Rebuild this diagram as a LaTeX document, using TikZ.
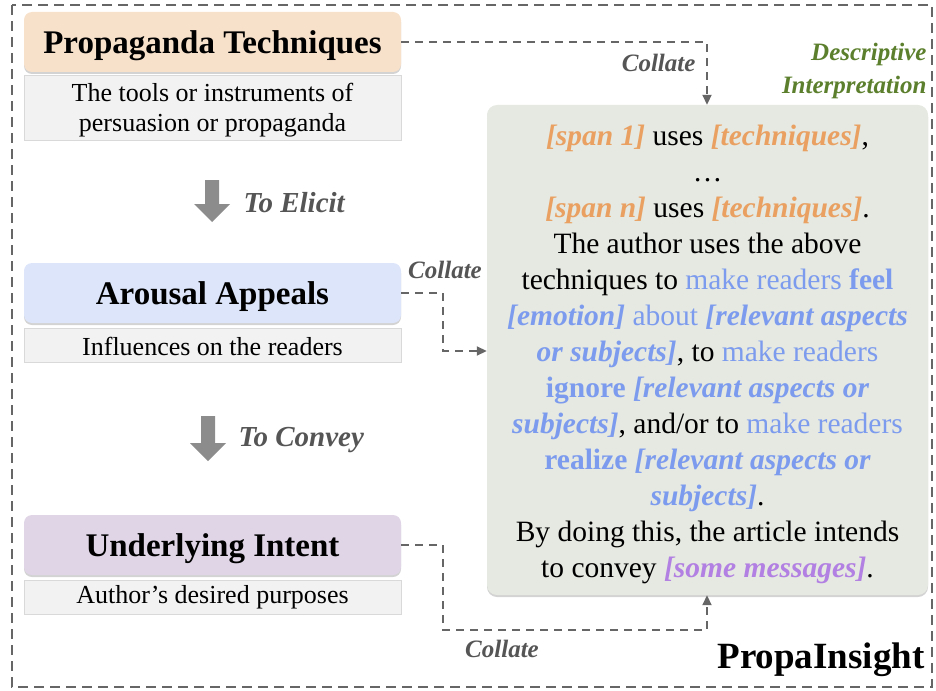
\documentclass[tikz,border=0pt]{standalone}
\usepackage{fontspec}
\setmainfont{Liberation Serif}
\usetikzlibrary{shadows,arrows.meta}
\definecolor{peach}{HTML}{F8E1CB}
\definecolor{lblue}{HTML}{DCE5F9}
\definecolor{lpurple}{HTML}{E0D5E7}
\definecolor{descgray}{HTML}{F2F2F2}
\definecolor{bigfill}{HTML}{E5E9E1}
\definecolor{dashgray}{HTML}{666666}
\definecolor{arrgray}{HTML}{8C8C8C}
\definecolor{labgray}{HTML}{555555}
\definecolor{dgreen}{HTML}{5B7F2C}
\definecolor{orn}{HTML}{E9A061}
\definecolor{blu}{HTML}{7C9BEE}
\definecolor{pur}{HTML}{B27FE2}
\newcommand{\tOrn}[1]{\textcolor{orn}{\bfseries\itshape #1}}
\newcommand{\tBlu}[1]{\textcolor{blu}{#1}}
\newcommand{\tBlb}[1]{\textcolor{blu}{\bfseries #1}}
\newcommand{\tBlbi}[1]{\textcolor{blu}{\bfseries\itshape #1}}
\newcommand{\tPur}[1]{\textcolor{pur}{\bfseries\itshape #1}}
\tikzset{
  titlebox/.style={draw=none, rounded corners=8pt, minimum width=377pt, minimum height=60pt,
    font=\fontsize{33}{36}\selectfont\bfseries, text depth=0pt,
    drop shadow={opacity=0.35, shadow xshift=0pt, shadow yshift=-2pt}},
  descbox/.style={draw=black!15, line width=0.6pt, fill=descgray, minimum width=377pt,
    font=\fontsize{26}{30}\selectfont, align=center, inner sep=0pt},
  bigbox/.style={rounded corners=10pt, fill=bigfill, draw=none, minimum width=441pt, minimum height=490pt,
    drop shadow={opacity=0.35, shadow xshift=0pt, shadow yshift=-2pt}},
  dashline/.style={draw=dashgray, line width=1.8pt, dash pattern=on 8pt off 6pt,
    -{Triangle[length=10pt,width=9pt]}},
  outerline/.style={draw=dashgray, line width=1.8pt, dash pattern=on 10pt off 6pt},
  collate/.style={text=labgray, font=\fontsize{25}{28}\selectfont\bfseries\itshape},
  blockarrow/.style={fill=arrgray, draw=none},
  steplabel/.style={text=labgray, font=\fontsize{29}{32}\selectfont\bfseries\itshape, anchor=west},
}
\begin{document}
\begin{tikzpicture}[x=1pt,y=-1pt]
\useasboundingbox (0,0) rectangle (936,690);
\draw[outerline] (12,5) rectangle (932,687);

% left column
\node[titlebox, fill=peach] (pt) at (212.5,42) {Propaganda Techniques};
\node[descbox, minimum height=64pt] (ptd) at (212.5,108) {\begin{tabular}{@{}c@{}}\rule{0pt}{26pt}The tools or instruments of\\persuasion or propaganda\end{tabular}};

\node[titlebox, fill=lblue] (aa) at (212.5,293) {Arousal Appeals};
\node[descbox, minimum height=34pt] (aad) at (212.5,345) {\rule{0pt}{22pt}Influences on the readers};

\node[titlebox, fill=lpurple] (ui) at (212.5,545) {Underlying Intent};
\node[descbox, minimum height=34pt] (uid) at (212.5,597) {Author’s desired purposes};

% block arrows
\fill[blockarrow] (205,180) -- (219,180) -- (219,204) -- (230,204) -- (212,222) -- (194,204) -- (205,204) -- cycle;
\node[steplabel] (el) at (240,203) {To Elicit};
\fill[blockarrow] (201,416) -- (215,416) -- (215,443) -- (226,443) -- (208,461) -- (190,443) -- (201,443) -- cycle;
\node[steplabel] (co) at (235,440) {To Convey};

% big box
\node[bigbox] (box) at (707.5,350) {};
\node[align=center, font=\fontsize{29.5}{36}\selectfont] (txt) at (707.5,354) {%
\tOrn{[span 1]} uses \tOrn{[techniques]},\\
…\\
\tOrn{[span n]} uses \tOrn{[techniques]}.\\
The author uses the above\\
techniques to \tBlu{make readers} \tBlb{feel}\\
\tBlbi{[emotion]} \tBlu{about} \tBlbi{[relevant aspects}\\
\tBlbi{or subjects]}, to \tBlu{make readers}\\
\tBlb{ignore} \tBlbi{[relevant aspects or}\\
\tBlbi{subjects]}, and/or to \tBlu{make readers}\\
\tBlb{realize} \tBlbi{[relevant aspects or}\\
\tBlbi{subjects]}.\\
By doing this, the article intends\\
to convey \tPur{[some messages]}.};

\node[anchor=east, align=right, text=dgreen, font=\fontsize{25}{33}\selectfont\bfseries\itshape] (di) at (930,71) {Descriptive\\Interpretation};

% connectors
\coordinate (c1) at (707,42);
\draw[dashline] (pt.east) -- (c1) -- (c1 |- box.north);
\node[collate, anchor=east] (l1) at (699,63) {Collate};

\coordinate (c2) at (443,351);
\draw[dashline] (aa.east) -| (c2) -- (c2 -| box.west);
\node[collate] (l2) at (445,270) {Collate};

\coordinate (c3) at (443,630);
\coordinate (c4) at (707,630);
\draw[dashline] (ui.east) -| (c3) -- (c4) -- (c4 |- box.south);
\node[collate] (l3) at (502,649) {Collate};

\node[anchor=east, font=\fontsize{37}{40}\selectfont\bfseries] (pi) at (928,660) {PropaInsight};
\end{tikzpicture}
\end{document}
